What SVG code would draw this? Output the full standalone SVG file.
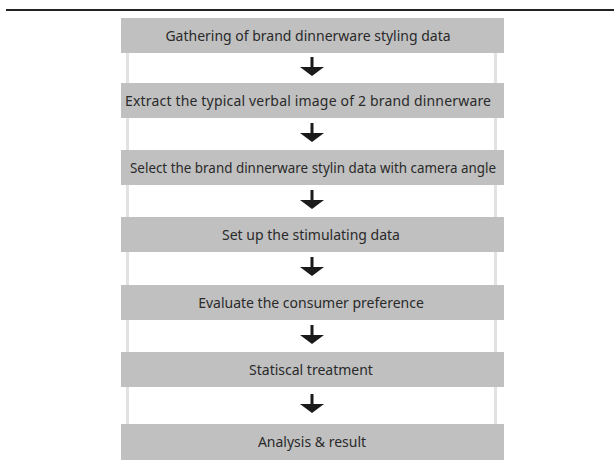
<svg xmlns="http://www.w3.org/2000/svg" width="614" height="464" viewBox="0 0 614 464">
  <style>
    .box { fill: #c0c0c0; }
    .label { font-family: "Noto Sans", "Open Sans", "DejaVu Sans", sans-serif; font-size: 14px; fill: #2a2a2a; text-anchor: middle; }
    .rail { stroke: #e2e2e2; stroke-width: 3; fill: none; }
    .stem { stroke: #1a1a1a; stroke-width: 3; }
    .head { fill: #1a1a1a; }
  </style>
  <defs>
    <g id="arrow">
      <line class="stem" x1="0" y1="0" x2="0" y2="11"/>
      <polygon class="head" points="-12,10 12,10 0,19"/>
    </g>
  </defs>
  <rect width="614" height="464" fill="#fff"/>
  <!-- top rule -->
  <rect x="6" y="9" width="608" height="2" fill="#222"/>
  <!-- side rails behind the steps -->
  <g id="rails">
    <line class="rail" x1="127.5" y1="40" x2="127.5" y2="440"/>
    <line class="rail" x1="495.5" y1="40" x2="495.5" y2="440"/>
  </g>
  <g id="connectors">
    <use href="#arrow" x="312" y="57"/>
    <use href="#arrow" x="312" y="123"/>
    <use href="#arrow" x="312" y="190"/>
    <use href="#arrow" x="312" y="257"/>
    <use href="#arrow" x="312" y="325"/>
    <use href="#arrow" x="312" y="394"/>
  </g>
  <g id="step1"><rect class="box" x="121" y="18" width="383" height="35"/><text class="label" x="308" y="41">Gathering of brand dinnerware styling data</text></g>
  <g id="step2"><rect class="box" x="121" y="83" width="383" height="35"/><text class="label" x="308" y="106" textLength="366" lengthAdjust="spacing">Extract the typical verbal image of 2 brand dinnerware</text></g>
  <g id="step3"><rect class="box" x="121" y="150" width="383" height="35"/><text class="label" x="313" y="173" textLength="366" lengthAdjust="spacingAndGlyphs">Select the brand dinnerware stylin data with camera angle</text></g>
  <g id="step4"><rect class="box" x="121" y="217" width="383" height="35"/><text class="label" x="311" y="240">Set up the stimulating data</text></g>
  <g id="step5"><rect class="box" x="121" y="285" width="383" height="35"/><text class="label" x="311" y="308">Evaluate the consumer preference</text></g>
  <g id="step6"><rect class="box" x="121" y="352" width="383" height="35"/><text class="label" x="311" y="375">Statiscal treatment</text></g>
  <g id="step7"><rect class="box" x="121" y="424" width="383" height="36"/><text class="label" x="312" y="447">Analysis &amp; result</text></g>
</svg>
